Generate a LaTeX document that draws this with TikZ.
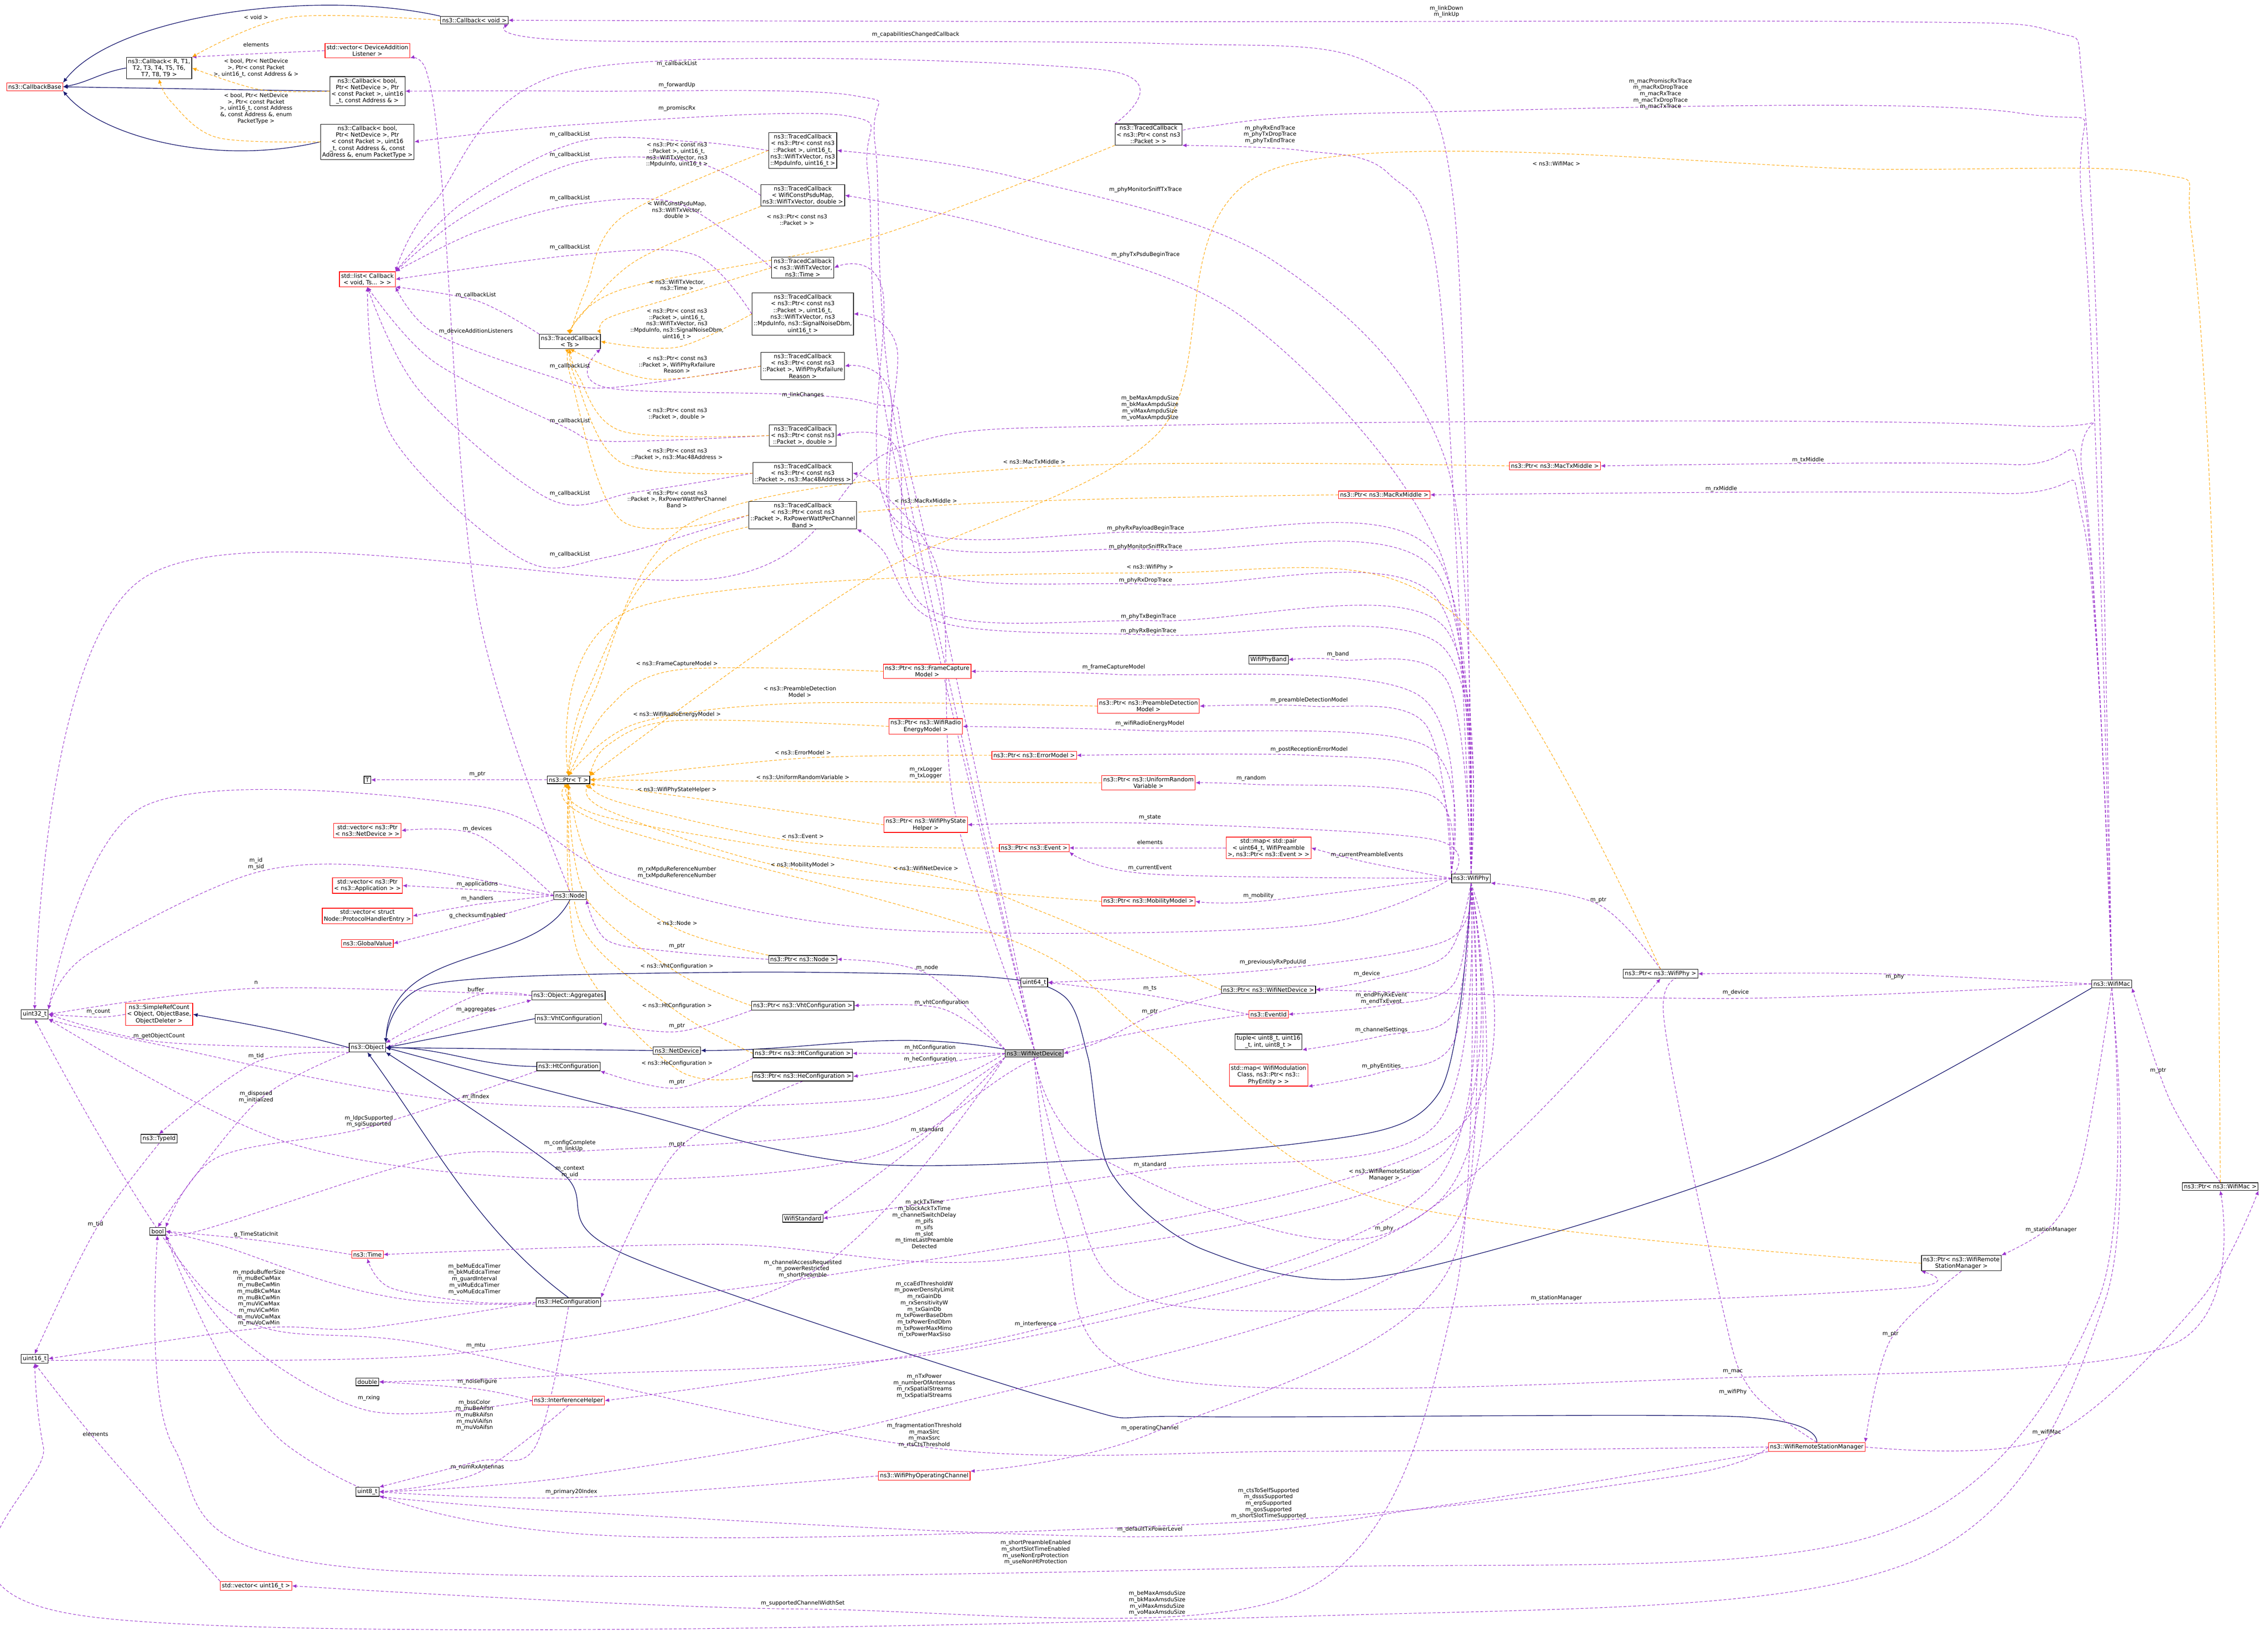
\documentclass[tikz,border=0pt]{standalone}
\usepackage{fontspec}
\setmainfont{DejaVu Sans}
\usetikzlibrary{arrows.meta}
\definecolor{pur}{RGB}{154,50,205}
\definecolor{org}{RGB}{255,165,0}
\definecolor{nav}{RGB}{25,25,112}
\pgfdeclarelayer{bg}
\pgfdeclarelayer{back}
\pgfsetlayers{back,bg,main}
\tikzset{
 bx/.style={draw=black,fill=white,line width=0.4pt,inner sep=1.1pt,align=center,font=\fontsize{4}{4.6}\selectfont},
 rbx/.style={bx,draw=red},
 gbx/.style={bx,fill=black!25},
 lb/.style={inner sep=0.5pt,align=center,font=\fontsize{3.8}{4.4}\selectfont},
 as/.style={pur,line width=0.35pt,dash pattern=on 2pt off 1.3pt,-{Latex[length=3pt,width=2.6pt]}},
 tp/.style={org,line width=0.35pt,dash pattern=on 2pt off 1.3pt,-{Latex[length=3pt,width=2.6pt]}},
 ih/.style={nav,line width=0.45pt,-{Latex[length=3.2pt,width=2.8pt]}}
}
\newcommand\Ed[4][as]{\begin{pgfonlayer}{bg}\draw[#1] plot[smooth,tension=0.55] coordinates {(#2) #3 (#4)};\end{pgfonlayer}}
\newcommand\Lb[2]{\node[lb] at (#1) {#2};}
\begin{document}
\begin{tikzpicture}[x=1pt,y=-1pt]
\begin{pgfonlayer}{back}
\fill[white] (0,0) rectangle (1568,1127);
\end{pgfonlayer}
\useasboundingbox (0,0) rectangle (1568,1127);
% ---------- nodes
\node[rbx] (cb) at (24,60) {ns3::CallbackBase};
\node[bx] (cbR) at (110,47) {ns3::Callback< R, T1,\\ T2, T3, T4, T5, T6,\\ T7, T8, T9 >};
\node[bx] (cbv) at (328,14) {ns3::Callback< void >};
\node[rbx] (vdal) at (254,35) {std::vector< DeviceAddition\\Listener >};
\node[bx] (cbA) at (254,63) {ns3::Callback< bool,\\ Ptr< NetDevice >, Ptr\\< const Packet >, uint16\\\_t, const Address \& >};
\node[bx] (cbP) at (254,98) {ns3::Callback< bool,\\ Ptr< NetDevice >, Ptr\\< const Packet >, uint16\\\_t, const Address \&, const\\ Address \&, enum PacketType >};
\node[rbx] (lst) at (254,193) {std::list< Callback\\< void, Ts... > >};
\node[bx] (tcs) at (394,236) {ns3::TracedCallback\\< Ts >};
\node[bx] (tc1) at (555,104) {ns3::TracedCallback\\< ns3::Ptr< const ns3\\::Packet >, uint16\_t,\\ ns3::WifiTxVector, ns3\\::MpduInfo, uint16\_t >};
\node[bx] (tc2) at (555,135) {ns3::TracedCallback\\< WifiConstPsduMap,\\ ns3::WifiTxVector, double >};
\node[bx] (tc3) at (555,185) {ns3::TracedCallback\\< ns3::WifiTxVector,\\ ns3::Time >};
\node[bx] (tc4) at (555,217) {ns3::TracedCallback\\< ns3::Ptr< const ns3\\::Packet >, uint16\_t,\\ ns3::WifiTxVector, ns3\\::MpduInfo, ns3::SignalNoiseDbm,\\ uint16\_t >};
\node[bx] (tc5) at (555,253) {ns3::TracedCallback\\< ns3::Ptr< const ns3\\::Packet >, WifiPhyRxfailure\\Reason >};
\node[bx] (tc6) at (555,301) {ns3::TracedCallback\\< ns3::Ptr< const ns3\\::Packet >, double >};
\node[bx] (tc7) at (555,327) {ns3::TracedCallback\\< ns3::Ptr< const ns3\\::Packet >, ns3::Mac48Address >};
\node[bx] (tc8) at (555,356) {ns3::TracedCallback\\< ns3::Ptr< const ns3\\::Packet >, RxPowerWattPerChannel\\Band >};
\node[bx] (tcp) at (794,93) {ns3::TracedCallback\\< ns3::Ptr< const ns3\\::Packet > >};
\node[bx] (T) at (254,539) {T};
\node[bx] (ptrT) at (393,539) {ns3::Ptr< T >};
\node[rbx] (vnd) at (254,574) {std::vector< ns3::Ptr\\< ns3::NetDevice > >};
\node[rbx] (vapp) at (254,612) {std::vector< ns3::Ptr\\< ns3::Application > >};
\node[rbx] (vph) at (254,633) {std::vector< struct\\ Node::ProtocolHandlerEntry >};
\node[rbx] (gv) at (254,652) {ns3::GlobalValue};
\node[bx] (node) at (394,619) {ns3::Node};
\node[bx] (u32) at (24,701) {uint32\_t};
\node[rbx] (src) at (110,701) {ns3::SimpleRefCount\\< Object, ObjectBase,\\ ObjectDeleter >};
\node[bx] (obj) at (254,724) {ns3::Object};
\node[bx] (agg) at (393,688) {ns3::Object::Aggregates};
\node[bx] (vht) at (393,704) {ns3::VhtConfiguration};
\node[bx] (net) at (468,726) {ns3::NetDevice};
\node[bx] (ht) at (393,737) {ns3::HtConfiguration};
\node[bx] (tid) at (110,787) {ns3::TypeId};
\node[bx] (bool) at (109,851) {bool};
\node[rbx] (time) at (254,867) {ns3::Time};
\node[bx] (he) at (393,900) {ns3::HeConfiguration};
\node[bx] (u16) at (24,939) {uint16\_t};
\node[bx] (dbl) at (254,955) {double};
\node[rbx] (ih) at (393,968) {ns3::InterferenceHelper};
\node[bx] (u8) at (254,1031) {uint8\_t};
\node[rbx] (vu16) at (177,1096) {std::vector< uint16\_t >};
\node[bx] (pnode) at (555,663) {ns3::Ptr< ns3::Node >};
\node[bx] (pvht) at (555,695) {ns3::Ptr< ns3::VhtConfiguration >};
\node[bx] (pht) at (555,728) {ns3::Ptr< ns3::HtConfiguration >};
\node[bx] (phe) at (555,744) {ns3::Ptr< ns3::HeConfiguration >};
\node[gbx] (wnd) at (715,728) {ns3::WifiNetDevice};
\node[bx] (std) at (555,842) {WifiStandard};
\node[rbx] (opch) at (639,1020) {ns3::WifiPhyOperatingChannel};
\node[rbx] (wrsm) at (1256,1000) {ns3::WifiRemoteStationManager};
\node[bx] (band) at (877,456) {WifiPhyBand};
\node[rbx] (pfcm) at (641,464) {ns3::Ptr< ns3::FrameCapture\\Model >};
\node[rbx] (ppdm) at (794,488) {ns3::Ptr< ns3::PreambleDetection\\Model >};
\node[rbx] (prem) at (640,502) {ns3::Ptr< ns3::WifiRadio\\EnergyModel >};
\node[rbx] (perr) at (715,522) {ns3::Ptr< ns3::ErrorModel >};
\node[rbx] (purv) at (794,541) {ns3::Ptr< ns3::UniformRandom\\Variable >};
\node[rbx] (pstate) at (640,570) {ns3::Ptr< ns3::WifiPhyState\\Helper >};
\node[rbx] (pev) at (715,586) {ns3::Ptr< ns3::Event >};
\node[rbx] (mapev) at (877,586) {std::map< std::pair\\< uint64\_t, WifiPreamble\\ >, ns3::Ptr< ns3::Event > >};
\node[rbx] (pmob) at (794,623) {ns3::Ptr< ns3::MobilityModel >};
\node[bx] (wphy) at (1017,607) {ns3::WifiPhy};
\node[bx] (u64) at (715,679) {uint64\_t};
\node[bx] (pwnd) at (877,684) {ns3::Ptr< ns3::WifiNetDevice >};
\node[rbx] (evid) at (877,701) {ns3::EventId};
\node[bx] (tuple) at (877,720) {tuple< uint8\_t, uint16\\\_t, int, uint8\_t >};
\node[rbx] (mapmod) at (877,743) {std::map< WifiModulation\\Class, ns3::Ptr< ns3::\\PhyEntity > >};
\node[rbx] (ptx) at (1075,322) {ns3::Ptr< ns3::MacTxMiddle >};
\node[rbx] (prx) at (957,342) {ns3::Ptr< ns3::MacRxMiddle >};
\node[bx] (pwphy) at (1148,673) {ns3::Ptr< ns3::WifiPhy >};
\node[bx] (wmac) at (1460,680) {ns3::WifiMac};
\node[bx] (pwmac) at (1535,820) {ns3::Ptr< ns3::WifiMac >};
\node[bx] (pwrsm) at (1356,873) {ns3::Ptr< ns3::WifiRemote\\StationManager >};
% ---------- inheritance
\begin{pgfonlayer}{bg}
\draw[ih] (cbR.west) to[out=190,in=10] (cb.east);
\draw[ih] (cbv.north west) .. controls (220,-8) and (80,10) .. (cb.north east);
\draw[ih] (cbA.west) -- (cb.east);
\draw[ih] (cbP.west) .. controls (150,115) and (70,95) .. (cb.south east);
\draw[ih] (obj.west) to[out=165,in=-10] (src.east);
\draw[ih] (node.south) .. controls (370,670) and (270,650) .. (obj.north east);
\draw[ih] (vht.west) -- (obj.east);
\draw[ih] (net.west) -- (obj.east);
\draw[ih] (ht.west) to[out=180,in=0] (obj.east);
\draw[ih] (he.north) .. controls (330,850) and (300,790) .. (obj.south);
\draw[ih] (wnd.north west) to[out=170,in=0] (net.east);
\draw[ih] plot[smooth] coordinates {(wphy.south) (995,755) (900,790) (610,805) (428,766) (obj.east)};
\draw[ih] plot[smooth] coordinates {(wmac.south west) (1222,802) (955,882) (833,864) (768,810) (752,730) (735,688) (680,675) (500,672) (300,680) (obj.north east)};
\draw[ih] plot[smooth] coordinates {(wrsm.north) (1200,979) (823,979) (738,970) (430,866) (389,811) (obj.south east)};
\end{pgfonlayer}
% ---------- callbacks
\Ed{wmac.north}{(1452,300) (1440,60) (1420,22) (1300,15) (800,15)}{cbv.east} \Lb{1000,8}{m\_linkDown\\m\_linkUp}
\Ed{wphy.north}{(1005,140) (950,45) (800,30) (400,28)}{cbv.south east} \Lb{633,24}{m\_capabilitiesChangedCallback}
\Ed{wnd.north}{(620,300) (605,100) (590,66) (400,63)}{cbA.east} \Lb{468,59}{m\_forwardUp}
\Ed{wnd.north}{(615,300) (600,120) (585,80) (400,86)}{cbP.east} \Lb{468,75}{m\_promiscRx}
\Ed{tcp.north west}{(760,48) (400,48) (300,140)}{lst.north east}  \Lb{468,44}{m\_callbackList}
\Ed{tc1.west}{(480,98) (400,98) (320,140)}{lst.north east} \Lb{394,93}{m\_callbackList}
\Ed{tc2.west}{(480,112) (400,112) (320,150)}{lst.north east} \Lb{394,107}{m\_callbackList}
\Ed{tc3.west}{(470,141) (400,141) (330,160)}{lst.north east} \Lb{394,137}{m\_callbackList}
\Ed{tc4.west}{(480,176) (400,176)}{lst.east} \Lb{394,171}{m\_callbackList}
\Ed{tcs.north west}{(330,208)}{lst.south east} \Lb{329,204}{m\_callbackList}
\Ed{tc5.west}{(420,268) (380,260) (300,230)}{lst.south east} \Lb{394,253}{m\_callbackList}
\Ed{tc6.west}{(420,305) (390,295) (300,250)}{lst.south} \Lb{394,291}{m\_callbackList}
\Ed{tc7.west}{(440,340) (380,345) (290,270)}{lst.south} \Lb{394,341}{m\_callbackList}
\Ed{tc8.west}{(420,385) (360,386) (270,300)}{lst.south} \Lb{394,383}{m\_callbackList}
\Ed{node.north}{(330,420) (305,120) (295,50)}{vdal.south east} \Lb{329,229}{m\_deviceAdditionListeners}
\Ed{vdal.west}{(180,37)}{cbR.north east} \Lb{177,31}{elements}
\Ed[tp]{cbv.west}{(200,12)}{cbR.north east} \Lb{177,12}{< void >}
\Ed[tp]{cbA.west}{(180,62)}{cbR.east} \Lb{177,47}{< bool, Ptr< NetDevice\\ >, Ptr< const Packet\\ >, uint16\_t, const Address \& >}
\Ed[tp]{cbP.west}{(150,95) (118,70)}{cbR.south} \Lb{177,75}{< bool, Ptr< NetDevice\\ >, Ptr< const Packet\\ >, uint16\_t, const Address\\ \&, const Address \&, enum\\ PacketType >}
% ---------- traced callback templates
\Ed[tp]{tc1.west}{(430,150) (405,200)}{tcs.north} \Lb{468,107}{< ns3::Ptr< const ns3\\::Packet >, uint16\_t,\\ ns3::WifiTxVector, ns3\\::MpduInfo, uint16\_t >}
\Ed[tp]{tc2.south west}{(440,180) (400,220)}{tcs.north} \Lb{468,145}{< WifiConstPsduMap,\\ ns3::WifiTxVector,\\ double >}
\Ed[tp]{tcp.south west}{(600,165) (430,200)}{tcs.north} \Lb{551,152}{< ns3::Ptr< const ns3\\::Packet > >}
\Ed[tp]{tc3.west}{(468,205) (420,220)}{tcs.north east} \Lb{468,197}{< ns3::WifiTxVector,\\ ns3::Time >}
\Ed[tp]{tc4.west}{(468,240)}{tcs.east} \Lb{468,224}{< ns3::Ptr< const ns3\\::Packet >, uint16\_t,\\ ns3::WifiTxVector, ns3\\::MpduInfo, ns3::SignalNoiseDbm,\\ uint16\_t >}
\Ed[tp]{tc5.west}{(450,262)}{tcs.south} \Lb{468,252}{< ns3::Ptr< const ns3\\::Packet >, WifiPhyRxfailure\\ Reason >}
\Ed[tp]{tc6.west}{(430,298) (400,260)}{tcs.south} \Lb{468,286}{< ns3::Ptr< const ns3\\::Packet >, double >}
\Ed[tp]{tc7.west}{(430,320) (398,262)}{tcs.south} \Lb{468,314}{< ns3::Ptr< const ns3\\::Packet >, ns3::Mac48Address >}
\Ed[tp]{tc8.west}{(430,360) (395,262)}{tcs.south} \Lb{468,345}{< ns3::Ptr< const ns3\\::Packet >, RxPowerWattPerChannel\\ Band >}
\Ed{wnd.north}{(630,330) (600,278) (420,268)}{tcs.south east} \Lb{555,273}{m\_linkChanges}
% ---------- mac / phy traces
\Ed{wmac.north}{(1440,150) (1395,78) (960,78) (830,88)}{tcp.east} \Lb{1148,65}{m\_macPromiscRxTrace\\m\_macRxDropTrace\\m\_macRxTrace\\m\_macTxDropTrace\\m\_macTxTrace}
\Ed{wphy.north}{(995,200) (960,120) (900,104)}{tcp.south east} \Lb{878,93}{m\_phyRxEndTrace\\m\_phyTxDropTrace\\m\_phyTxEndTrace}
\Ed{wphy.north}{(1000,320) (880,180) (700,122)}{tc1.east} \Lb{792,131}{m\_phyMonitorSniffTxTrace}
\Ed{wphy.north}{(995,380) (860,220) (700,160)}{tc2.east} \Lb{792,176}{m\_phyTxPsduBeginTrace}
\Ed{wphy.north}{(990,380) (800,368) (620,360) (610,200)}{tc3.east} \Lb{792,365}{m\_phyRxPayloadBeginTrace}
\Ed{wphy.north}{(990,392) (800,380) (625,370) (620,240)}{tc4.east} \Lb{792,378}{m\_phyMonitorSniffRxTrace}
\Ed{wphy.north}{(990,410) (800,404) (630,390) (615,270)}{tc5.east} \Lb{792,401}{m\_phyRxDropTrace}
\Ed{wphy.north}{(995,430) (800,429) (640,420) (620,310)}{tc6.east} \Lb{794,426}{m\_phyTxBeginTrace}
\Ed{wphy.north}{(995,445) (800,439) (650,430) (610,380)}{tc8.south east} \Lb{794,436}{m\_phyRxBeginTrace}
\Ed{wnd.north}{(660,560) (650,400) (610,340)}{tc7.east} \Lb{640,534}{m\_rxLogger\\m\_txLogger}
\Ed{wmac.north}{(1440,340) (1390,321)}{ptx.east} \Lb{1250,318}{m\_txMiddle}
\Ed{wmac.north}{(1440,360) (1380,341)}{prx.east} \Lb{1190,338}{m\_rxMiddle}
\Ed{wmac.north}{(1440,330) (1390,294) (800,294) (620,310) (500,399) (100,399)}{u32.north} \Lb{795,282}{m\_beMaxAmpduSize\\m\_bkMaxAmpduSize\\m\_viMaxAmpduSize\\m\_voMaxAmpduSize}
\Ed{wmac.west}{(1300,673)}{pwphy.east} \Lb{1310,675}{m\_phy}
\Ed{wmac.west}{(1200,690)}{pwnd.east} \Lb{1200,686}{m\_device}
\Ed{wmac.south}{(1440,800) (1420,845)}{pwrsm.north east} \Lb{1418,850}{m\_stationManager}
\Ed{pwmac.north}{(1500,760)}{wmac.south east} \Lb{1492,740}{m\_ptr}
\Ed{wmac.south}{(1450,900) (1300,1060) (900,1083) (240,1083) (120,1000)}{bool.south} \Lb{716,1073}{m\_shortPreambleEnabled\\m\_shortSlotTimeEnabled\\m\_useNonErpProtection\\m\_useNonHtProtection}
\Ed{wmac.south}{(1455,900) (1320,1080) (900,1117) (60,1117) (30,1000)}{u16.south} \Lb{800,1108}{m\_beMaxAmsduSize\\m\_bkMaxAmsduSize\\m\_viMaxAmsduSize\\m\_voMaxAmsduSize}
\Ed[tp]{pwmac.north}{(1530,400) (1515,160) (1492,120) (1300,117) (880,117) (800,300) (600,400)}{ptrT.north east} \Lb{1076,113}{< ns3::WifiMac >}
% ---------- phy members
\Ed{wphy.north west}{(980,480) (770,466)}{pfcm.east} \Lb{770,461}{m\_frameCaptureModel}
\Ed{wphy.north west}{(985,500) (905,488)}{ppdm.east} \Lb{905,484}{m\_preambleDetectionModel}
\Ed{wphy.north west}{(985,515) (795,505)}{prem.east} \Lb{795,500}{m\_wifiRadioEnergyModel}
\Ed{wphy.north west}{(990,535) (905,522)}{perr.east} \Lb{905,518}{m\_postReceptionErrorModel}
\Ed{wphy.north west}{(990,550) (865,542)}{purv.east} \Lb{865,538}{m\_random}
\Ed{wphy.west}{(990,580) (795,569)}{pstate.east} \Lb{795,565}{m\_state}
\Ed{wphy.west}{(945,596)}{mapev.east} \Lb{945,591}{m\_currentPreambleEvents}
\Ed{wphy.west}{(795,604)}{pev.south east} \Lb{795,600}{m\_currentEvent}
\Ed{wphy.west}{(870,623)}{pmob.east} \Lb{870,619}{m\_mobility}
\Ed{wphy.north}{(1000,470) (925,456)}{band.east} \Lb{925,452}{m\_band}
\Ed{wphy.south}{(1000,650) (880,670)}{u64.east} \Lb{880,665}{m\_previouslyRxPpduUid}
\Ed{wphy.south}{(1000,660) (945,678)}{pwnd.east} \Lb{945,673}{m\_device}
\Ed{wphy.south}{(1005,680) (955,695)}{evid.east} \Lb{955,690}{m\_endPhyRxEvent\\m\_endTxEvent}
\Ed{wphy.south}{(1005,700) (955,716)}{tuple.south east} \Lb{955,712}{m\_channelSettings}
\Ed{wphy.south}{(1005,720) (955,741)}{mapmod.south east} \Lb{955,737}{m\_phyEntities}
\Ed{mapev.west}{(795,586)}{pev.east} \Lb{795,582}{elements}
\Ed{evid.west}{(795,688)}{u64.east} \Lb{795,683}{m\_ts}
\Ed{pwnd.south west}{(800,700) (760,720)}{wnd.east} \Lb{795,699}{m\_ptr}
\Ed{pwphy.north}{(1105,625)}{wphy.south east} \Lb{1105,622}{m\_ptr}
\Ed{wphy.west}{(900,640) (610,642) (430,606) (330,557) (100,557)}{u32.north east} \Lb{468,603}{m\_rxMpduReferenceNumber\\m\_txMpduReferenceNumber}
% ---------- orange to Ptr<T>
\Ed[tp]{pfcm.west}{(468,463) (420,490)}{ptrT.north} \Lb{468,459}{< ns3::FrameCaptureModel >}
\Ed[tp]{ppdm.west}{(553,486) (440,500)}{ptrT.north} \Lb{553,478}{< ns3::PreambleDetection\\ Model >}
\Ed[tp]{prem.west}{(468,498) (420,515)}{ptrT.north east} \Lb{468,494}{< ns3::WifiRadioEnergyModel >}
\Ed[tp]{perr.west}{(555,524)}{ptrT.east} \Lb{555,520}{< ns3::ErrorModel >}
\Ed[tp]{purv.west}{(555,540)}{ptrT.east} \Lb{555,537}{< ns3::UniformRandomVariable >}
\Ed[tp]{pstate.west}{(468,550)}{ptrT.south east} \Lb{468,546}{< ns3::WifiPhyStateHelper >}
\Ed[tp]{pev.west}{(555,582) (430,555)}{ptrT.south east} \Lb{555,578}{< ns3::Event >}
\Ed[tp]{pmob.west}{(555,602) (420,560)}{ptrT.south east} \Lb{555,598}{< ns3::MobilityModel >}
\Ed[tp]{pwnd.west}{(720,630) (640,604) (420,565)}{ptrT.south} \Lb{640,600}{< ns3::WifiNetDevice >}
\Ed[tp]{pwphy.north}{(1000,420) (795,396) (440,420)}{ptrT.north} \Lb{795,392}{< ns3::WifiPhy >}
\Ed[tp]{ptx.west}{(715,323) (480,360) (410,480)}{ptrT.north} \Lb{715,319}{< ns3::MacTxMiddle >}
\Ed[tp]{prx.west}{(640,350) (470,380) (405,480)}{ptrT.north} \Lb{640,346}{< ns3::MacRxMiddle >}
\Ed[tp]{pwrsm.west}{(957,830) (800,720) (700,650) (420,570)}{ptrT.south} \Lb{957,812}{< ns3::WifiRemoteStation\\ Manager >}
\Ed[tp]{pnode.north west}{(468,642) (410,600)}{ptrT.south} \Lb{468,638}{< ns3::Node >}
\Ed[tp]{pvht.west}{(468,672) (405,620)}{ptrT.south} \Lb{468,668}{< ns3::VhtConfiguration >}
\Ed[tp]{pht.west}{(468,699) (402,640)}{ptrT.south} \Lb{468,695}{< ns3::HtConfiguration >}
\Ed[tp]{phe.west}{(468,739) (400,660)}{ptrT.south} \Lb{468,735}{< ns3::HeConfiguration >}
\Ed{ptrT.west}{(330,539)}{T.east} \Lb{330,535}{m\_ptr}
\Ed{pnode.west}{(468,658) (420,650)}{node.south east} \Lb{468,654}{m\_ptr}
\Ed{pvht.south west}{(468,713)}{vht.south east} \Lb{468,709}{m\_ptr}
\Ed{pht.south west}{(468,752)}{ht.south east} \Lb{468,748}{m\_ptr}
\Ed{phe.south}{(468,795)}{he.north east} \Lb{468,791}{m\_ptr}
% ---------- wifinetdevice members
\Ed{wnd.north west}{(641,673)}{pnode.east} \Lb{641,669}{m\_node}
\Ed{wnd.north west}{(651,697)}{pvht.east} \Lb{651,693}{m\_vhtConfiguration}
\Ed{wnd.west}{(643,728)}{pht.east} \Lb{643,724}{m\_htConfiguration}
\Ed{wnd.west}{(643,736)}{phe.east} \Lb{643,732}{m\_heConfiguration}
\Ed{wnd.south west}{(641,785)}{std.north east} \Lb{641,781}{m\_standard}
\Ed{wphy.south}{(990,780) (795,809)}{std.east} \Lb{795,805}{m\_standard}
\Ed{wnd.south}{(760,800) (957,853)}{pwphy.south} \Lb{957,849}{m\_phy}
\Ed{wnd.south}{(740,820) (800,900) (1076,901) (1320,890)}{pwrsm.south west} \Lb{1076,897}{m\_stationManager}
\Ed{wnd.south}{(735,850) (800,952) (1198,952) (1500,930)}{pwmac.south} \Lb{1198,948}{m\_mac}
\Ed{wrsm.north}{(1210,960) (1190,900) (1150,700)}{pwphy.south east} \Lb{1198,962}{m\_wifiPhy}
\Ed{wrsm.east}{(1415,994) (1520,900)}{pwmac.south east} \Lb{1415,990}{m\_wifiMac}
\Ed{pwrsm.south}{(1307,926)}{wrsm.north east} \Lb{1307,922}{m\_ptr}
\Ed{wnd.south west}{(560,880) (329,934) (60,940)}{u16.east} \Lb{329,930}{m\_mtu}
\Ed{wnd.west}{(600,760) (329,762) (100,720)}{u32.south east} \Lb{329,758}{m\_ifIndex}
\Ed{wnd.south west}{(600,780) (394,796) (300,800) (140,850)}{bool.east} \Lb{394,792}{m\_configComplete\\m\_linkUp}
\Ed{evid.west}{(720,730) (600,800) (394,815) (200,790)}{u32.south east} \Lb{394,810}{m\_context\\m\_uid}
% ---------- object side
\Ed{node.west}{(330,577)}{vnd.east} \Lb{330,573}{m\_devices}
\Ed{node.west}{(330,615)}{vapp.east} \Lb{330,611}{m\_applications}
\Ed{node.west}{(330,625)}{vph.east} \Lb{330,621}{m\_handlers}
\Ed{node.south west}{(330,637)}{gv.east} \Lb{330,633}{g\_checksumEnabled}
\Ed{node.west}{(280,600) (177,603) (60,660)}{u32.north east} \Lb{177,597}{m\_id\\m\_sid}
\Ed{agg.west}{(177,683)}{u32.east} \Lb{177,679}{n}
\Ed{obj.east}{(329,702)}{agg.south west} \Lb{329,698}{m\_aggregates}
\Ed{agg.west}{(329,688)}{obj.north east} \Lb{329,684}{buffer}
\Ed{src.west}{(68,703)}{u32.east} \Lb{68,699}{m\_count}
\Ed{obj.west}{(110,720)}{u32.east} \Lb{110,716}{m\_getObjectCount}
\Ed{obj.south west}{(177,734)}{tid.north} \Lb{177,730}{m\_tid}
\Ed{tid.south}{(66,850)}{u16.north} \Lb{66,846}{m\_tid}
\Ed{obj.south west}{(177,762)}{bool.north} \Lb{177,758}{m\_disposed\\m\_initialized}
\Ed{ht.south west}{(255,779) (150,800)}{bool.north east} \Lb{255,775}{m\_ldpcSupported\\m\_sgiSupported}
\Ed{time.west}{(177,857)}{bool.east} \Lb{177,853}{g\_TimeStaticInit}
\Ed{he.west}{(330,900) (270,890)}{time.south} \Lb{328,884}{m\_beMuEdcaTimer\\m\_bkMuEdcaTimer\\m\_guardInterval\\m\_viMuEdcaTimer\\m\_voMuEdcaTimer}
\Ed{he.west}{(250,918) (179,918)}{u16.east} \Lb{179,897}{m\_mpduBufferSize\\m\_muBeCwMax\\m\_muBeCwMin\\m\_muBkCwMax\\m\_muBkCwMin\\m\_muViCwMax\\m\_muViCwMin\\m\_muVoCwMax\\m\_muVoCwMin}
\Ed{he.south}{(370,1000) (330,1010)}{u8.north east} \Lb{328,978}{m\_bssColor\\m\_muBeAifsn\\m\_muBkAifsn\\m\_muViAifsn\\m\_muVoAifsn}
\Ed{ih.west}{(330,960)}{dbl.east} \Lb{330,955}{m\_noiseFigure}
\Ed{ih.west}{(255,975) (160,920)}{bool.south east} \Lb{255,966}{m\_rxing}
\Ed{ih.south}{(330,1018)}{u8.east} \Lb{330,1014}{m\_numRxAntennas}
\Ed{wphy.south}{(990,820) (716,919)}{ih.east} \Lb{716,915}{m\_interference}
\Ed{wphy.south}{(995,800) (700,870) (500,860)}{time.east} \Lb{639,846}{m\_ackTxTime\\m\_blockAckTxTime\\m\_channelSwitchDelay\\m\_pifs\\m\_sifs\\m\_slot\\m\_timeLastPreamble\\Detected}
\Ed{wphy.south}{(995,790) (555,884) (300,900) (150,860)}{bool.east} \Lb{555,877}{m\_channelAccessRequested\\m\_powerRestricted\\m\_shortPreamble}
\Ed{wphy.south}{(995,830) (680,930) (400,950)}{dbl.east} \Lb{639,905}{m\_ccaEdThresholdW\\m\_powerDensityLimit\\m\_rxGainDb\\m\_rxSensitivityW\\m\_txGainDb\\m\_txPowerBaseDbm\\m\_txPowerEndDbm\\m\_txPowerMaxMimo\\m\_txPowerMaxSiso}
\Ed{wphy.south}{(995,860) (640,975) (400,1020)}{u8.east} \Lb{639,958}{m\_nTxPower\\m\_numberOfAntennas\\m\_rxSpatialStreams\\m\_txSpatialStreams}
\Ed{wphy.south}{(1000,880) (795,991)}{opch.north east} \Lb{795,987}{m\_operatingChannel}
\Ed{opch.west}{(395,1035)}{u8.east} \Lb{395,1031}{m\_primary20Index}
\Ed{wrsm.west}{(900,1003) (639,1000) (300,930) (150,900)}{u32.south} \Lb{639,992}{m\_fragmentationThreshold\\m\_maxSlrc\\m\_maxSsrc\\m\_rtsCtsThreshold}
\Ed{wrsm.west}{(1160,1020) (877,1051) (400,1060) (200,1000)}{bool.south east} \Lb{877,1039}{m\_ctsToSelfSupported\\m\_dsssSupported\\m\_erpSupported\\m\_qosSupported\\m\_shortSlotTimeSupported}
\Ed{wrsm.south west}{(1000,1040) (795,1062) (400,1045)}{u8.south east} \Lb{795,1057}{m\_defaultTxPowerLevel}
\Ed{wphy.south}{(1005,900) (900,1100) (555,1112)}{vu16.east} \Lb{555,1108}{m\_supportedChannelWidthSet}
\Ed{vu16.north west}{(66,995)}{u16.south} \Lb{66,991}{elements}
\end{tikzpicture}
\end{document}
